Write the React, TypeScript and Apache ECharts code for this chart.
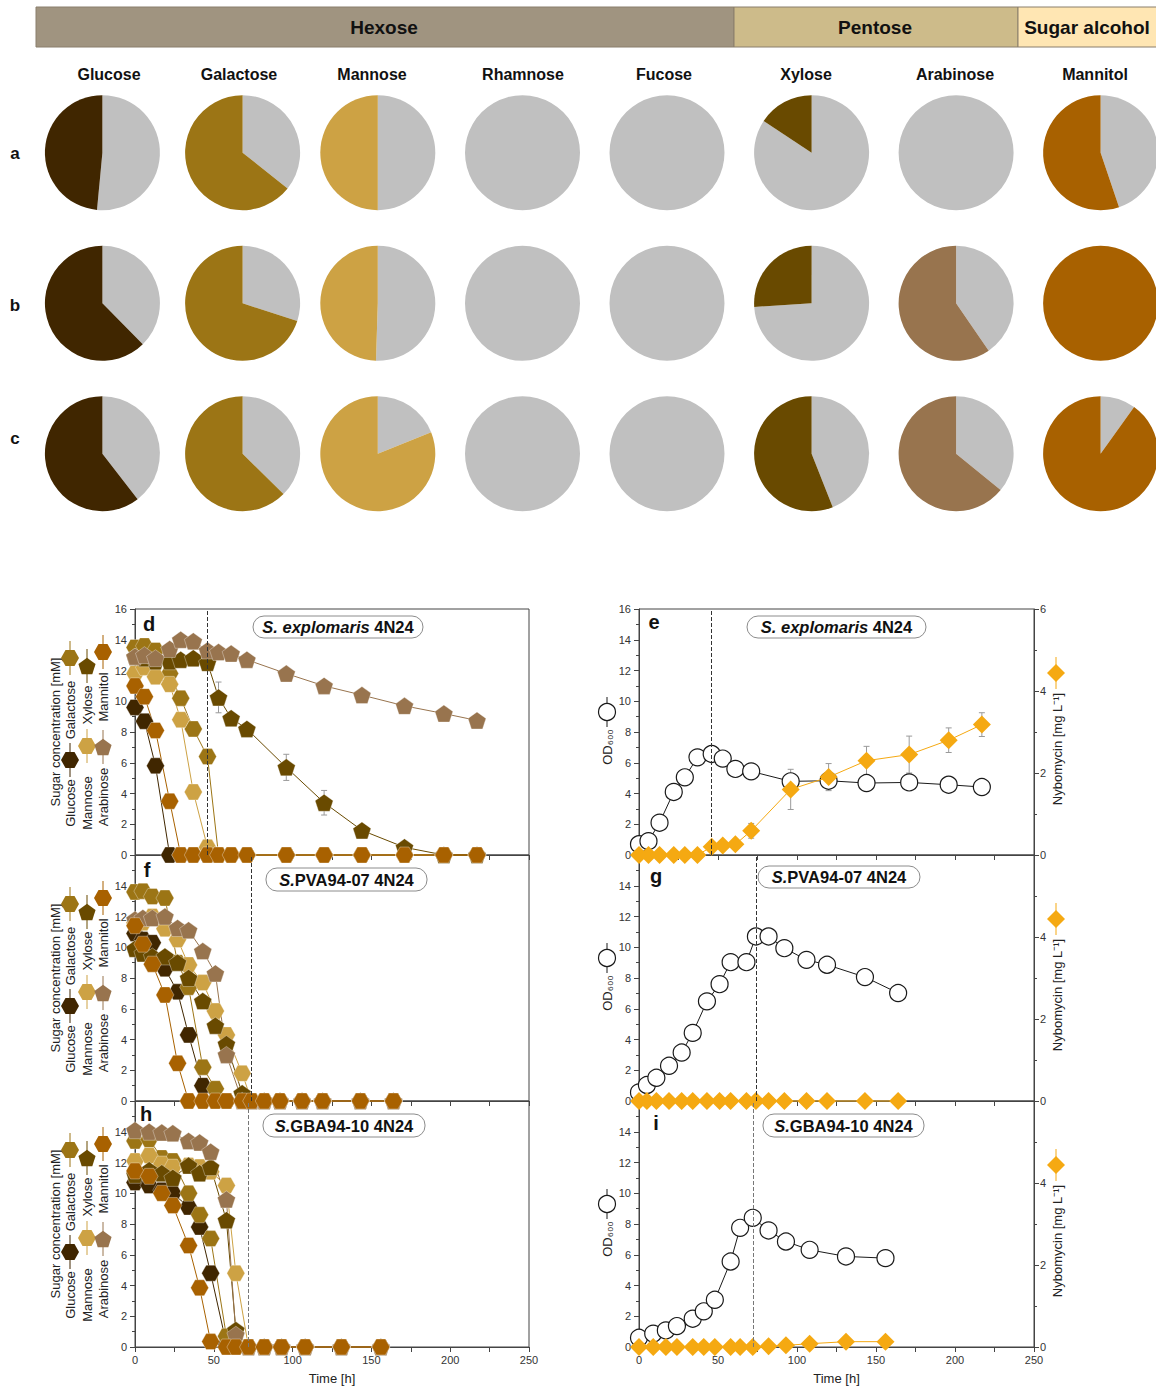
import React, { useEffect, useRef } from 'react';
import * as echarts from 'echarts';

const FONT = '"Liberation Sans", Arial, Helvetica, sans-serif';

// ---------------- Pie charts (a, b, c) : share of sugar consumed [%] ----------------
const SUGARS = ['Glucose', 'Galactose', 'Mannose', 'Rhamnose', 'Fucose', 'Xylose', 'Arabinose', 'Mannitol'];
const PIE_ROWS = ['a', 'b', 'c'];
const PIE_A = [48.5, 64.3, 50.0, 0, 0, 15.7, 0, 55.2];
const PIE_B = [62.4, 70.0, 49.5, 0, 0, 26.0, 59.6, 100];
const PIE_C = [60.5, 62.6, 81.1, 0, 0, 56.0, 64.1, 90.1];
const GROUPS = ['Hexose', 'Pentose', 'Sugar alcohol'];

// ---------------- Time courses ----------------
// S. explomaris 4N24 (d, e)
const TIME_D = [0, 6, 13, 22, 29, 37, 46, 53, 61, 71, 96, 120, 144, 171, 196, 217];
const GLU_D = [9.6, 8.7, 5.8, 0, 0, 0, 0, 0, 0, 0, 0, 0, 0, 0, 0, 0];
const GAL_D = [13.5, 13.6, 13.3, 11.8, 10.2, 8.2, 6.4, 0, 0, 0, 0, 0, 0, 0, 0, 0];
const MAN_D = [11.8, 12.2, 11.6, 11.1, 8.8, 4.1, 0.5, 0, 0, 0, 0, 0, 0, 0, 0, 0];
const XYL_D = [12.9, 12.8, 12.6, 12.6, 12.7, 12.8, 12.5, 10.25, 8.9, 8.2, 5.7, 3.4, 1.6, 0.5, 0, 0];
const XYL_D_ERR = [0, 0, 0, 0, 0, 0, 0.3, 1.0, 0.3, 0.2, 0.85, 0.8, 0.3, 0.2, 0, 0];
const ARA_D = [12.9, 13.0, 12.8, 13.4, 14.0, 13.9, 13.3, 13.2, 13.1, 12.7, 11.8, 11.0, 10.4, 9.7, 9.2, 8.75];
const MTL_D = [11.0, 10.3, 8.1, 3.5, 0, 0, 0, 0, 0, 0, 0, 0, 0, 0, 0, 0];
const OD_E = [0.7, 0.9, 2.1, 4.1, 5.05, 6.35, 6.57, 6.27, 5.6, 5.44, 4.79, 4.83, 4.68, 4.72, 4.57, 4.42];
const NYB_E = [0, 0, 0, 0, 0, 0, 0.2, 0.23, 0.26, 0.59, 1.6, 1.9, 2.3, 2.45, 2.8, 3.18];
const NYB_E_ERR = [0, 0, 0, 0, 0, 0, 0.05, 0.05, 0.08, 0.18, 0.49, 0.33, 0.35, 0.45, 0.3, 0.29];
const DASH_DE = 46;

// S.PVA94-07 4N24 (f, g)
const TIME_F = [0, 5, 11, 19, 27, 34, 43, 51, 58, 68, 74, 82, 92, 106, 119, 143, 164];
const GLU_F = [10.9, 10.5, 10.3, 8.6, 7.1, 4.3, 1.0, 0, 0, 0, 0, 0, 0, 0, 0, 0, 0];
const GAL_F = [13.6, 13.65, 13.3, 13.2, 9.0, 7.4, 2.2, 0.8, 0, 0, 0, 0, 0, 0, 0, 0, 0];
const MAN_F = [11.6, 11.6, 12.0, 11.2, 10.5, 8.85, 7.7, 5.85, 4.3, 1.8, 0, 0, 0, 0, 0, 0, 0];
const XYL_F = [9.9, 9.6, 9.4, 9.4, 9.0, 8.0, 6.5, 4.9, 3.7, 0.5, 0, 0, 0, 0, 0, 0, 0];
const ARA_F = [11.8, 11.9, 11.9, 12.0, 11.25, 11.1, 9.75, 8.3, 3.0, 0, 0, 0, 0, 0, 0, 0, 0];
const MTL_F = [11.4, 10.2, 8.9, 6.9, 2.45, 0, 0, 0, 0, 0, 0, 0, 0, 0, 0, 0, 0];
const OD_G = [0.56, 1.04, 1.51, 2.29, 3.15, 4.43, 6.48, 7.6, 9.03, 9.03, 10.7, 10.7, 9.94, 9.18, 8.86, 8.06, 7.02];
const NYB_G = [0, 0, 0, 0, 0, 0, 0, 0, 0, 0, 0, 0, 0, 0, 0, 0, 0];
const DASH_FG = 74;

// S.GBA94-10 4N24 (h, i)
const TIME_H = [0, 9, 17, 24, 34, 41, 48, 58, 64, 72, 82, 93, 108, 131, 156];
const GLU_H = [10.7, 10.5, 10.2, 10.0, 9.1, 7.8, 4.8, 0.2, 0, 0, 0, 0, 0, 0, 0];
const GAL_H = [13.4, 13.5, 12.3, 12.1, 10.0, 8.6, 7.05, 0.7, 0, 0, 0, 0, 0, 0, 0];
const MAN_H = [12.1, 12.45, 11.9, 11.7, 11.8, 11.7, 11.4, 10.5, 4.8, 0, 0, 0, 0, 0, 0];
const XYL_H = [11.2, 11.5, 11.3, 11.0, 11.8, 11.3, 11.7, 8.25, 1.1, 0, 0, 0, 0, 0, 0];
const ARA_H = [14.1, 14.0, 13.95, 13.9, 13.4, 13.3, 12.7, 9.6, 0.8, 0, 0, 0, 0, 0, 0];
const MTL_H = [11.45, 11.1, 10.0, 9.2, 6.6, 3.85, 0.35, 0, 0, 0, 0, 0, 0, 0, 0];
const OD_I = [0.6, 0.87, 1.08, 1.36, 1.84, 2.32, 3.07, 5.56, 7.75, 8.4, 7.58, 6.86, 6.32, 5.89, 5.78];
const NYB_I = [0, 0, 0, 0, 0, 0, 0, 0, 0, 0, 0.02, 0.04, 0.08, 0.13, 0.13];
const DASH_HI = 72;

const STRAINS = [
  { it: 'S. explomaris', rest: ' 4N24' },
  { it: 'S.', rest: 'PVA94-07 4N24' },
  { it: 'S.', rest: 'GBA94-10 4N24' },
];
const X_TICKS = { min: 0, max: 250, interval: 50 };
const Y_LEFT = { min: 0, max: 16, interval: 2 };
const Y_RIGHT = { min: 0, max: 6, interval: 2 };

// ---------------- styles / layout ----------------
const HEX_PATH = 'path://M-1,0L-0.5,-0.866L0.5,-0.866L1,0L0.5,0.866L-0.5,0.866Z';
const PENT_PATH = 'path://M0,-1L0.951,-0.309L0.588,0.809L-0.588,0.809L-0.951,-0.309Z';
const GRAY = '#C0C0C0';
const SUGAR_COLORS = ['#402600', '#9C7515', '#CDA244', GRAY, GRAY, '#694A00', '#98744E', '#A86100'];
const SERIES_STYLE = [
  { name: 'Glucose', color: '#402600', symbol: HEX_PATH, kind: 'hex' },
  { name: 'Galactose', color: '#9C7515', symbol: HEX_PATH, kind: 'hex' },
  { name: 'Mannose', color: '#CDA244', symbol: HEX_PATH, kind: 'hex' },
  { name: 'Xylose', color: '#694A00', symbol: PENT_PATH, kind: 'pent' },
  { name: 'Arabinose', color: '#98744E', symbol: PENT_PATH, kind: 'pent' },
  { name: 'Mannitol', color: '#A86100', symbol: HEX_PATH, kind: 'hex' },
];
const NYB_COLOR = '#F5A912';

const LEFT_PANELS = [
  { times: TIME_D, values: [GLU_D, GAL_D, MAN_D, XYL_D, ARA_D, MTL_D], dash: DASH_DE },
  { times: TIME_F, values: [GLU_F, GAL_F, MAN_F, XYL_F, ARA_F, MTL_F], dash: DASH_FG },
  { times: TIME_H, values: [GLU_H, GAL_H, MAN_H, XYL_H, ARA_H, MTL_H], dash: DASH_HI },
];
const RIGHT_PANELS = [
  { times: TIME_D, od: OD_E, nyb: NYB_E, dash: DASH_DE },
  { times: TIME_F, od: OD_G, nyb: NYB_G, dash: DASH_FG },
  { times: TIME_H, od: OD_I, nyb: NYB_I, dash: DASH_HI },
];

const L = {
  leftX: 135, leftW: 394, rightX: 639, rightW: 395,
  tops: [609, 855, 1101], h: 246,
  pieX: [102.4, 242.6, 377.8, 522.5, 667, 811.6, 956.1, 1100.6],
  pieY: [152.7, 303.3, 453.7], pieR: 57.5,
  labelX: [109, 239, 372, 523, 664, 806, 955, 1095], labelY: 74,
  header: [{ x: 36, w: 698, fill: '#A09480' }, { x: 734, w: 284, fill: '#CDBB8A' }, { x: 1018, w: 140, fill: '#FFE6B3' }],
  headerText: [384, 875, 1087],
  letterL: [[149, 624, 'd'], [147, 870, 'f'], [146, 1114, 'h']],
  letterR: [[654, 622, 'e'], [656, 876, 'g'], [656, 1123, 'i']],
  boxL: [[253, 616, 170, 22], [266, 868, 161, 23], [263, 1114, 162, 23]],
  boxR: [[747, 616, 179, 22], [758, 866, 162, 22], [763, 1114, 161, 23]],
};

const LEGEND_LINES = [
  { x: 70, items: [{ t: 'Glucose', at: 194 }, { g: 0, at: 151 }, { t: 'Galactose', at: 101 }, { g: 1, at: 49 }] },
  { x: 87, items: [{ t: 'Mannose', at: 194 }, { g: 2, at: 137 }, { t: 'Xylose', at: 96 }, { g: 3, at: 57 }] },
  { x: 103, items: [{ t: 'Arabinose', at: 188 }, { g: 4, at: 138 }, { t: 'Mannitol', at: 88 }, { g: 5, at: 43 }] },
];

function hexPts(cx: number, cy: number, w: number, h: number) {
  return [[cx - w / 2, cy], [cx - w / 4, cy - h / 2], [cx + w / 4, cy - h / 2], [cx + w / 2, cy], [cx + w / 4, cy + h / 2], [cx - w / 4, cy + h / 2]];
}
function pentPts(cx: number, cy: number, r: number) {
  const base = [[0, -1], [0.951, -0.309], [0.588, 0.809], [-0.588, 0.809], [-0.951, -0.309]];
  return base.map(([a, b]) => [cx + a * r, cy + (b + 0.095) * r]);
}
function diaPts(cx: number, cy: number, r: number) {
  return [[cx, cy - r], [cx + r, cy], [cx, cy + r], [cx - r, cy]];
}

function vtext(x: number, y: number, text: string, size = 13, color = '#222') {
  return {
    type: 'text', x, y, rotation: Math.PI / 2, silent: true,
    style: { text, font: `${size}px ${FONT}`, fill: color, align: 'center', verticalAlign: 'middle' },
  };
}

function errorSeries(times: number[], vals: number[], errs: number[], xi: number, yi: number) {
  return {
    type: 'custom', xAxisIndex: xi, yAxisIndex: yi, silent: true, z: 2, clip: false,
    data: times.map((t, j) => [t, vals[j], errs[j]]).filter((d) => d[2] > 0),
    encode: { x: 0, y: 1 },
    renderItem: (params: any, api: any) => {
      const x = api.value(0), y = api.value(1), e = api.value(2);
      const p1 = api.coord([x, y + e]);
      const p2 = api.coord([x, y - e]);
      const st = { stroke: '#9a9a9a', lineWidth: 1 };
      return {
        type: 'group',
        children: [
          { type: 'line', shape: { x1: p1[0], y1: p1[1], x2: p2[0], y2: p2[1] }, style: st },
          { type: 'line', shape: { x1: p1[0] - 3, y1: p1[1], x2: p1[0] + 3, y2: p1[1] }, style: st },
          { type: 'line', shape: { x1: p2[0] - 3, y1: p2[1], x2: p2[0] + 3, y2: p2[1] }, style: st },
        ],
      };
    },
  };
}

function buildOption() {
  const grid: any[] = [];
  const xAxis: any[] = [];
  const yAxis: any[] = [];
  const series: any[] = [];
  const graphic: any[] = [];

  const axisLine = { show: true, onZero: false, lineStyle: { color: '#444', width: 1 } };
  const axisTick = { show: true, length: 5, lineStyle: { color: '#444', width: 1 } };
  const minorTick = { show: true, splitNumber: 2, length: 3, lineStyle: { color: '#444', width: 1 } };

  // grids: order d, e, f, g, h, i
  for (let r = 0; r < 3; r++) {
    for (let c = 0; c < 2; c++) {
      const gi = r * 2 + c;
      grid.push({
        left: c === 0 ? L.leftX : L.rightX, top: L.tops[r], width: c === 0 ? L.leftW : L.rightW, height: L.h,
        show: true, borderColor: '#444', borderWidth: 1, backgroundColor: 'transparent',
      });
      xAxis.push({
        type: 'value', gridIndex: gi, ...X_TICKS,
        axisLine, axisTick, minorTick: { ...minorTick, length: 5 }, splitLine: { show: false },
        axisLabel: { show: r === 2, fontSize: 11, color: '#333', margin: 7, fontFamily: FONT },
        name: r === 2 ? 'Time [h]' : '', nameLocation: 'middle', nameGap: 25,
        nameTextStyle: { fontSize: 13, color: '#222', fontFamily: FONT },
      });
      yAxis.push({
        type: 'value', gridIndex: gi, ...Y_LEFT, position: 'left',
        axisLine, axisTick, minorTick, splitLine: { show: false },
        axisLabel: { fontSize: 11, color: '#333', margin: 8, showMaxLabel: r === 0, fontFamily: FONT },
      });
    }
  }
  // right axes for e, g, i
  for (let r = 0; r < 3; r++) {
    yAxis.push({
      type: 'value', gridIndex: r * 2 + 1, ...Y_RIGHT, position: 'right',
      axisLine, axisTick, minorTick, splitLine: { show: false },
      axisLabel: { fontSize: 11, color: '#333', margin: 6, showMaxLabel: r === 0, fontFamily: FONT },
    });
  }

  const dashLine = (v: number, color: string) => ({
    silent: true, symbol: ['none', 'none'], label: { show: false },
    lineStyle: { type: 'dashed', color, width: 1 }, emphasis: { disabled: true },
    data: [{ xAxis: v }],
  });

  // error bars (behind markers)
  series.push(errorSeries(TIME_D, XYL_D, XYL_D_ERR, 0, 0));
  series.push(errorSeries(TIME_D, NYB_E, NYB_E_ERR, 1, 6));

  // left panels
  LEFT_PANELS.forEach((p, r) => {
    const gi = r * 2;
    p.values.forEach((vals, k) => {
      const st = SERIES_STYLE[k];
      series.push({
        type: 'line', name: st.name, xAxisIndex: gi, yAxisIndex: gi,
        data: p.times.map((t, j) => [t, vals[j]]),
        symbol: st.symbol, symbolSize: st.kind === 'hex' ? [18, 16] : [18, 17],
        showAllSymbol: true, clip: false, silent: true, z: 3,
        lineStyle: { color: st.color, width: 1 },
        itemStyle: { color: st.color, borderColor: 'rgba(255,255,255,0.55)', borderWidth: 0.6 },
        emphasis: { disabled: true },
        markLine: k === 0 ? dashLine(p.dash, r === 2 ? '#777' : '#333') : undefined,
      });
    });
  });

  // right panels
  RIGHT_PANELS.forEach((p, r) => {
    const gi = r * 2 + 1;
    series.push({
      type: 'line', name: 'OD600', xAxisIndex: gi, yAxisIndex: gi,
      data: p.times.map((t, j) => [t, p.od[j]]),
      symbol: 'circle', symbolSize: 17, showAllSymbol: true, clip: false, silent: true, z: 3,
      lineStyle: { color: '#1a1a1a', width: 1 },
      itemStyle: { color: '#ffffff', borderColor: '#1a1a1a', borderWidth: 1.2 },
      emphasis: { disabled: true },
      markLine: dashLine(p.dash, r === 2 ? '#777' : '#333'),
    });
    series.push({
      type: 'line', name: 'Nybomycin', xAxisIndex: gi, yAxisIndex: 6 + r,
      data: p.times.map((t, j) => [t, p.nyb[j]]),
      symbol: 'diamond', symbolSize: [18, 18], showAllSymbol: true, clip: false, silent: true, z: 4,
      lineStyle: { color: NYB_COLOR, width: 1 },
      itemStyle: { color: NYB_COLOR },
      emphasis: { disabled: true },
    });
  });

  // pies
  const rows = [PIE_A, PIE_B, PIE_C];
  rows.forEach((row, ri) => {
    row.forEach((v, ci) => {
      const data: any[] = [];
      if (v < 100) data.push({ value: 100 - v, name: 'rest', itemStyle: { color: GRAY } });
      if (v > 0) data.push({ value: v, name: SUGARS[ci], itemStyle: { color: SUGAR_COLORS[ci] } });
      series.push({
        type: 'pie', center: [L.pieX[ci], L.pieY[ri]], radius: L.pieR, startAngle: 90, clockwise: true,
        label: { show: false }, labelLine: { show: false }, silent: true, emphasis: { disabled: true },
        itemStyle: { borderWidth: 0 }, data,
      });
    });
  });

  // header
  L.header.forEach((h, i) => {
    graphic.push({ type: 'rect', silent: true, shape: { x: h.x, y: 7, width: h.w, height: 40 }, style: { fill: h.fill, stroke: '#8a7f6c', lineWidth: 1 } });
    graphic.push({ type: 'text', silent: true, x: L.headerText[i], y: 27, style: { text: GROUPS[i], font: `bold 19px ${FONT}`, fill: '#111', align: 'center', verticalAlign: 'middle' } });
  });
  SUGARS.forEach((s, i) => {
    graphic.push({ type: 'text', silent: true, x: L.labelX[i], y: L.labelY, style: { text: s, font: `bold 16px ${FONT}`, fill: '#111', align: 'center', verticalAlign: 'middle' } });
  });
  PIE_ROWS.forEach((s, i) => {
    graphic.push({ type: 'text', silent: true, x: 15, y: [153, 305, 438][i], style: { text: s, font: `bold 17px ${FONT}`, fill: '#111', align: 'center', verticalAlign: 'middle' } });
  });

  // panel letters and strain boxes
  const addBox = (b: number[], s: { it: string; rest: string }) => {
    graphic.push({ type: 'rect', silent: true, shape: { x: b[0], y: b[1], width: b[2], height: b[3], r: 11 }, style: { fill: '#fff', stroke: '#8c8c8c', lineWidth: 1 }, z: 10 });
    graphic.push({
      type: 'text', silent: true, x: b[0] + b[2] / 2, y: b[1] + b[3] / 2, z: 11,
      style: {
        text: `{i|${s.it}}{b|${s.rest}}`, align: 'center', verticalAlign: 'middle',
        rich: {
          i: { fontStyle: 'italic', fontWeight: 'bold', fontSize: 16.5, fontFamily: FONT, fill: '#111', color: '#111' },
          b: { fontWeight: 'bold', fontSize: 16.5, fontFamily: FONT, fill: '#111', color: '#111' },
        },
      },
    });
  };
  for (let r = 0; r < 3; r++) {
    const [lx, ly, lt] = L.letterL[r] as any;
    const [rx, ry, rt] = L.letterR[r] as any;
    graphic.push({ type: 'text', silent: true, x: lx, y: ly, z: 11, style: { text: lt, font: `bold 20px ${FONT}`, fill: '#111', align: 'center', verticalAlign: 'middle' } });
    graphic.push({ type: 'text', silent: true, x: rx, y: ry, z: 11, style: { text: rt, font: `bold 20px ${FONT}`, fill: '#111', align: 'center', verticalAlign: 'middle' } });
    addBox(L.boxL[r], STRAINS[r]);
    addBox(L.boxR[r], STRAINS[r]);

    const top = L.tops[r];
    // left axis title + legend
    graphic.push(vtext(55, top + 123, 'Sugar concentration [mM]'));
    LEGEND_LINES.forEach((ln) => {
      ln.items.forEach((it: any) => {
        if (it.t) {
          graphic.push(vtext(ln.x, top + it.at, it.t));
        } else {
          const st = SERIES_STYLE[it.g];
          const cy = top + it.at;
          graphic.push({ type: 'line', silent: true, shape: { x1: ln.x, y1: cy - 17, x2: ln.x, y2: cy + 17 }, style: { stroke: st.color, lineWidth: 1 } });
          graphic.push({
            type: 'polygon', silent: true,
            shape: { points: st.kind === 'hex' ? hexPts(ln.x, cy, 18, 16) : pentPts(ln.x, cy, 9) },
            style: { fill: st.color },
          });
        }
      });
    });
    // right panel axis titles
    graphic.push(vtext(607, top + 138, 'OD₆₀₀'));
    graphic.push({ type: 'line', silent: true, shape: { x1: 607, y1: top + 103 - 15, x2: 607, y2: top + 103 + 15 }, style: { stroke: '#1a1a1a', lineWidth: 1 } });
    graphic.push({ type: 'circle', silent: true, shape: { cx: 607, cy: top + 103, r: 8.5 }, style: { fill: '#fff', stroke: '#1a1a1a', lineWidth: 1.2 } });
    graphic.push(vtext(1057, top + 140, 'Nybomycin [mg L⁻¹]'));
    graphic.push({ type: 'line', silent: true, shape: { x1: 1056, y1: top + 64 - 16, x2: 1056, y2: top + 64 + 16 }, style: { stroke: NYB_COLOR, lineWidth: 1 } });
    graphic.push({ type: 'polygon', silent: true, shape: { points: diaPts(1056, top + 64, 9) }, style: { fill: NYB_COLOR } });
  }

  return {
    animation: false,
    backgroundColor: '#ffffff',
    textStyle: { fontFamily: FONT },
    grid, xAxis, yAxis, series, graphic,
  };
}

export default function App() {
  const ref = useRef<HTMLDivElement>(null);
  useEffect(() => {
    const chart = echarts.init(ref.current!, null, { renderer: 'svg' });
    chart.setOption(buildOption() as any);
    return () => chart.dispose();
  }, []);
  return <div ref={ref} style={{ position: 'absolute', left: 0, top: 0, width: 1156, height: 1388 }} />;
}
